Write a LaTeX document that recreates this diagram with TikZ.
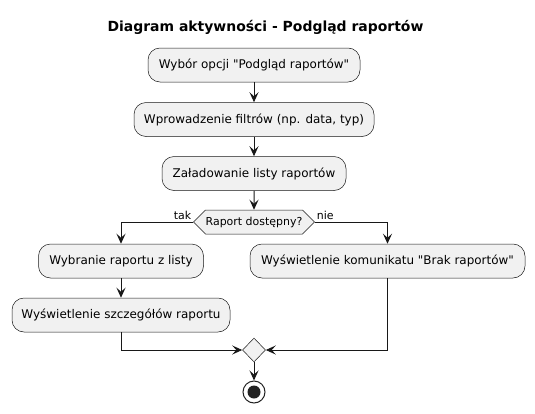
\documentclass[tikz,border=0pt]{standalone}
\usepackage{fontspec}
\setmainfont{DejaVu Sans}
\usepackage{tikz}
\usetikzlibrary{arrows.meta,shapes}
\definecolor{tlo}{HTML}{F1F1F1}
\definecolor{ramka}{HTML}{181818}
\definecolor{ciemny}{HTML}{222222}

\begin{document}
\begin{tikzpicture}[
  >={Stealth[length=10bp,width=9bp,inset=4bp]},
  akcja/.style={draw=ramka,line width=0.5bp,fill=tlo,rounded corners=12bp,minimum height=34bp,inner sep=0pt,font=\fontsize{12}{14}\selectfont},
  decyzja/.style={draw=ramka,line width=0.5bp,fill=tlo,signal,signal to=west and east,signal pointer angle=90,minimum width=121bp,minimum height=24bp,inner sep=0pt,font=\fontsize{11}{13}\selectfont},
  scalenie/.style={draw=ramka,line width=0.5bp,fill=tlo,diamond,minimum width=23bp,minimum height=24bp,inner sep=0pt},
  koniec/.style={circle,draw=ciemny,line width=1bp,minimum size=22bp,inner sep=0pt,path picture={\fill[ciemny] (path picture bounding box.center) circle (6.5bp);}},
  strzalka/.style={->,draw=ramka,line width=1bp},
  etykieta/.style={font=\fontsize{11}{13}\selectfont,inner sep=1.5bp}]
\useasboundingbox (0bp,0bp) rectangle (535bp,-414bp);
\node (T) at (265.5bp,-27bp)[font=\fontsize{14}{16}\selectfont\bfseries] {Diagram aktywności - Podgląd raportów};
\node (A1) at (254bp,-65bp)[akcja,minimum width=212bp] {Wybór opcji \textquotedbl Podgląd raportów\textquotedbl};
\node (A2) at (254bp,-119.5bp)[akcja,minimum width=240bp] {Wprowadzenie filtrów (np. data, typ)};
\node (A3) at (254bp,-173.5bp)[akcja,minimum width=184bp] {Załadowanie listy raportów};
\node (D1) at (254bp,-222bp)[decyzja] {Raport dostępny?};
\node (A4) at (121bp,-261bp)[akcja,minimum width=165bp] {Wybranie raportu z listy};
\node (A5) at (121bp,-315bp)[akcja,minimum width=218bp] {Wyświetlenie szczegółów raportu};
\node (A6) at (387.5bp,-261bp)[akcja,minimum width=275bp] {Wyświetlenie komunikatu \textquotedbl Brak raportów\textquotedbl};
\node (M) at (254bp,-350bp)[scalenie] {};
\node (K) at (254bp,-392bp)[koniec] {};
\draw [strzalka] (A1) -- (A2);
\draw [strzalka] (A2) -- (A3);
\draw [strzalka] (A3) -- (D1);
\draw [strzalka] (D1.west) -| node[pos=0,above left,etykieta] {tak} (A4);
\draw [strzalka] (D1.east) -| node[pos=0,above right,etykieta] {nie} (A6);
\draw [strzalka] (A4) -- (A5);
\draw [strzalka] (A5) |- (M);
\draw [strzalka] (A6) |- (M);
\draw [strzalka] (M) -- (K);
\end{tikzpicture}
\end{document}
